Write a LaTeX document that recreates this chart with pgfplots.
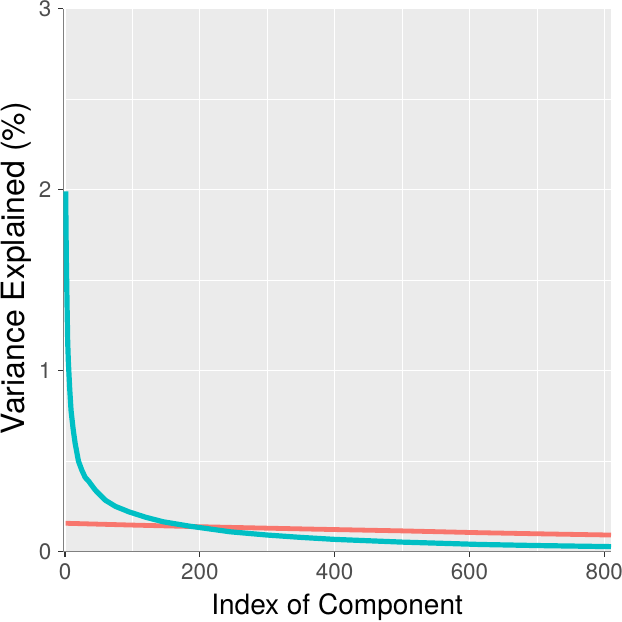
\documentclass[border=0pt]{standalone}
\usepackage{pgfplots}
\pgfplotsset{compat=1.18}
\usepackage{fontspec}
\setmainfont{TeX Gyre Heros}
\definecolor{panelbg}{HTML}{EBEBEB}
\definecolor{ggred}{HTML}{F8766D}
\definecolor{ggteal}{HTML}{00BFC4}
\definecolor{ticktext}{HTML}{4D4D4D}
\definecolor{tickcol}{HTML}{333333}
\definecolor{axisline}{HTML}{808080}

\begin{document}
\begin{tikzpicture}
\path[use as bounding box] (-31.65pt,-35.15pt) rectangle (279.35pt,275.85pt);
\begin{axis}[
  scale only axis, width=273.85pt, height=271.6pt,
  xmin=-2.5, xmax=810, ymin=0, ymax=3,
  xtick={0,200,...,800}, ytick={0,1,2,3},
  minor xtick={100,300,500,700}, minor ytick={0.5,1.5,2.5},
  grid=both,
  major grid style={white, line width=0.55pt},
  minor grid style={white, line width=0.3pt},
  axis background/.style={fill=panelbg},
  axis x line*=bottom, axis y line*=left,
  axis line style={axisline, line width=0.6pt, -},
  tick align=outside, major tick length=2.5pt, minor tick length=0pt,
  tick style={color=tickcol, line width=0.55pt},
  ticklabel style={font=\fontsize{11.2}{13}\selectfont, text=ticktext},
  /pgf/number format/assume math mode=true,
  xlabel={Index of Component}, ylabel={Variance Explained (\%)},
  xlabel style={font=\fontsize{14}{16}\selectfont},
  ylabel style={font=\fontsize{16}{18}\selectfont,
    at={(axis description cs:-0.070,0.522)}, anchor=base},
]
% random baseline
\addplot[ggred, line width=2.4pt, line join=round] coordinates {
(1,0.157) (100,0.147) (200,0.138) (300,0.130) (363,0.125) (500,0.115)
(615,0.105) (700,0.099) (810,0.092)};
% observed components
\addplot[ggteal, line width=2.6pt, line join=round] coordinates {
(1,1.99) (2,1.62) (3,1.38) (3.5,1.27) (4,1.16) (5,1.05) (7,0.90) (9,0.78)
(12,0.68) (15,0.60) (20,0.50) (25,0.45) (30,0.41) (35,0.39) (45,0.34)
(60,0.284) (75,0.25) (95,0.22) (120,0.19) (146,0.165) (185,0.141)
(245,0.11) (300,0.092) (350,0.079) (400,0.068) (500,0.053) (615,0.040)
(700,0.034) (810,0.028)};
\end{axis}
\end{tikzpicture}
\end{document}
